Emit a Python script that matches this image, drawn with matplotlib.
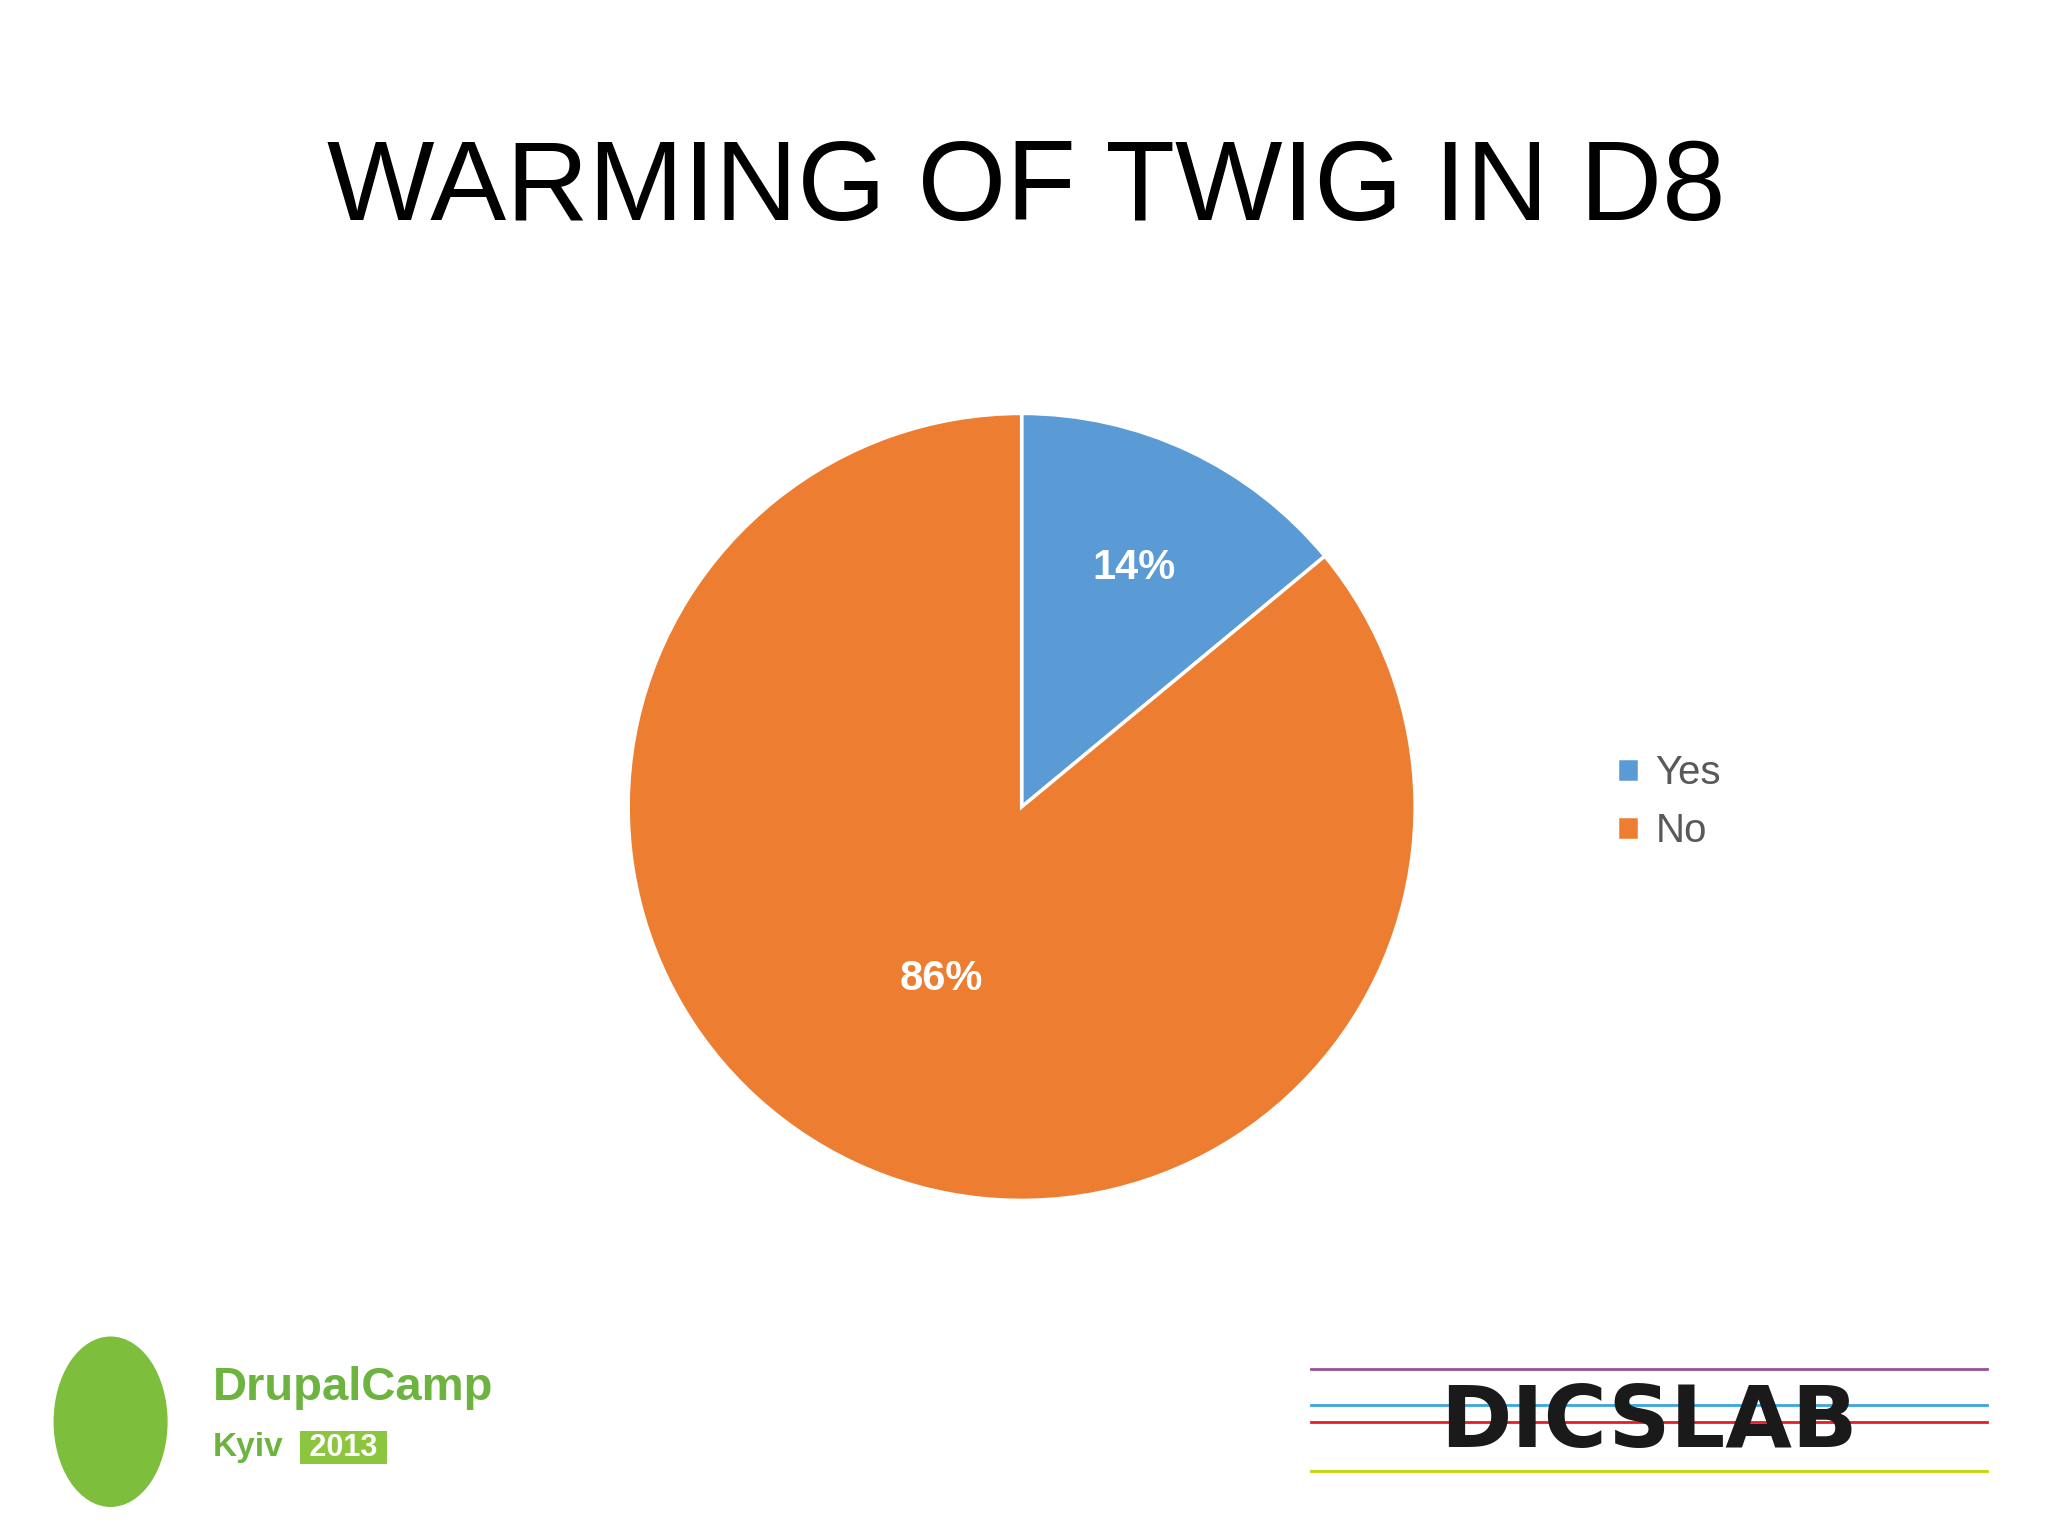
import matplotlib
matplotlib.use("Agg")
import matplotlib.pyplot as plt
from matplotlib.patches import Ellipse

title = "WARMING OF TWIG IN D8"
categories = ["Yes", "No"]
values = [14, 86]
colors = ["#5B9BD5", "#ED7D31"]

fig = plt.figure(figsize=(20.48, 15.37), dpi=100)
fig.patch.set_facecolor("white")
fig.text(0.501, 0.876, title, ha="center", va="center", fontsize=82,
         family="Liberation Sans")

ax = fig.add_axes([0.3066, 0.219, 0.3845, 0.512])
wedges, texts, autotexts = ax.pie(values, colors=colors, startangle=90, counterclock=False,
                                  autopct="%d%%", pctdistance=0.67,
                                  wedgeprops=dict(edgecolor="white", linewidth=2.5),
                                  textprops=dict(color="white", fontsize=30, fontweight="bold",
                                                 family="Liberation Sans"))
x, y = autotexts[1].get_position()
autotexts[1].set_position((x * 0.72, y * 0.72))
ax.set_xlim(-1, 1); ax.set_ylim(-1, 1)
ax.set_aspect("equal")

leg = fig.legend(wedges, categories, loc="center left", bbox_to_anchor=(0.772, 0.478),
                 frameon=False, handlelength=0.55, handleheight=0.55,
                 handletextpad=0.4, labelspacing=0.5,
                 prop=dict(family="Liberation Sans", size=29))
for t in leg.get_texts():
    t.set_color("#595959")

# logos approximated
fig.add_artist(Ellipse((0.054, 0.075), 0.055, 0.11, transform=fig.transFigure, color="#7DBE3C"))
fig.text(0.104, 0.097, "DrupalCamp", fontsize=34, color="#6DB33F", fontweight="bold",
         family="Liberation Sans", va="center")
fig.text(0.104, 0.058, "Kyiv", fontsize=24, color="#6DB33F", fontweight="bold",
         family="Liberation Sans", va="center")
fig.text(0.147, 0.058, " 2013 ", fontsize=22, color="white", fontweight="bold",
         family="Liberation Sans", va="center",
         bbox=dict(facecolor="#8CC63F", edgecolor="none", pad=1))
fig.text(0.805, 0.074, "DICSLAB", fontsize=62, color="#1a1a1a", fontweight="bold",
         family="DejaVu Sans", va="center", ha="center")
for yy, c in [(0.109, "#9B4F96"), (0.086, "#3AA6DD"), (0.075, "#E31E24"), (0.043, "#C8D400")]:
    fig.add_artist(plt.Line2D([0.64, 0.97], [yy, yy], transform=fig.transFigure,
                              color=c, lw=2, zorder=0))

fig.savefig("out.png", dpi=100)
